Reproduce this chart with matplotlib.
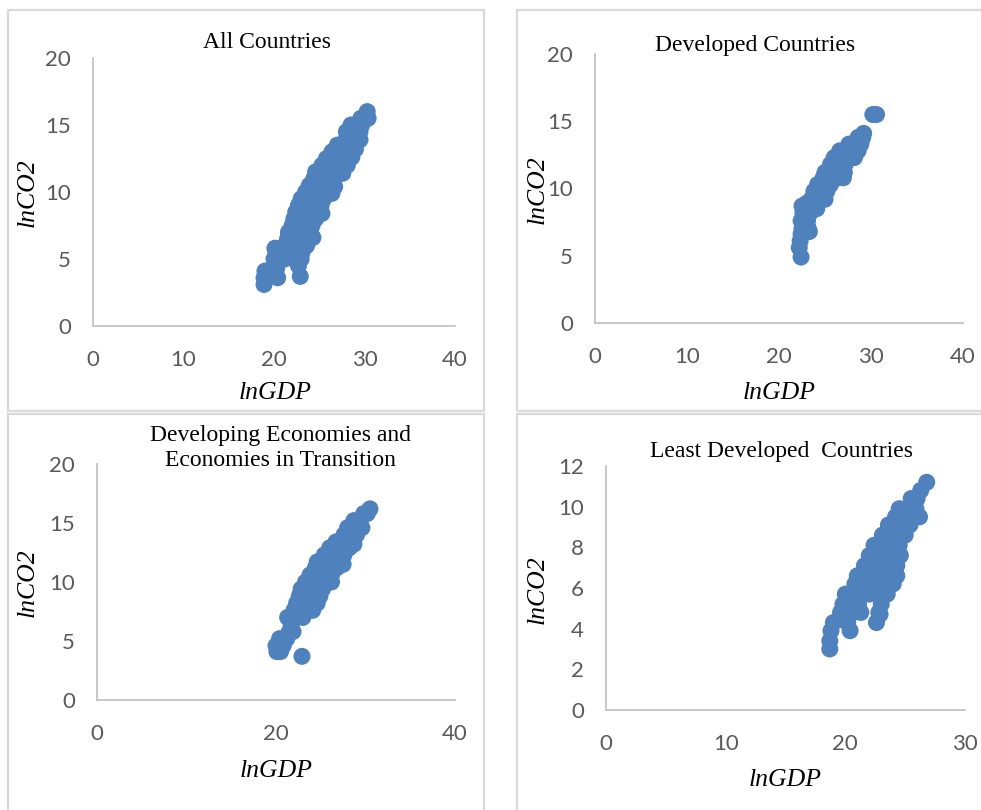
import matplotlib
matplotlib.use("Agg")
import matplotlib.pyplot as plt
from matplotlib.patches import Rectangle

# ---- data ----
all_gdp = [18.9, 18.9, 20.4, 22.9, 19.0, 19.3, 20.0, 22.7, 20.0, 21.2, 23.0,
           20.2, 21.5, 22.3, 23.1, 20.1, 20.6,
           21.2, 22.0, 22.8, 23.6, 21.5, 22.3, 23.1, 23.9, 21.6, 22.4, 23.2, 24.0,
           22.0, 22.8, 23.6, 24.2, 22.2, 23.0, 23.8, 24.6, 22.4, 23.2, 24.0, 24.9,
           22.7, 23.5, 24.3, 25.2, 23.0, 23.8, 24.6, 25.5, 23.5, 24.3, 25.1, 25.9,
           23.9, 24.7, 25.5, 26.3, 24.4, 25.2, 26.0, 26.7, 24.6, 25.5, 26.3, 27.2,
           25.3, 26.1, 26.9, 27.5, 25.8, 26.6, 27.3, 27.9, 26.4, 27.1, 27.8, 28.3,
           27.0, 27.7, 28.5, 28.0, 28.7, 29.2, 28.0, 28.7, 29.5, 28.5, 29.2, 29.7,
           29.6, 30.4, 30.3,
           20.3, 24.3, 25.3, 26.4, 26.7, 27.6, 28.1, 28.6, 29.0, 29.5]
all_co2 = [3.1, 3.6, 3.6, 3.7, 4.1, 4.1, 4.5, 4.5, 5.0, 5.0, 5.0,
           5.5, 5.5, 5.5, 5.5, 5.8, 5.8,
           6.0, 6.0, 6.0, 6.0, 6.5, 6.5, 6.5, 6.5, 7.0, 7.0, 7.0, 7.0,
           7.5, 7.5, 7.5, 7.5, 8.0, 8.0, 8.0, 8.0, 8.5, 8.5, 8.5, 8.5,
           9.0, 9.0, 9.0, 9.0, 9.5, 9.5, 9.5, 9.5, 10.0, 10.0, 10.0, 10.0,
           10.5, 10.5, 10.5, 10.5, 11.0, 11.0, 11.0, 11.0, 11.5, 11.5, 11.5, 11.5,
           12.0, 12.0, 12.0, 12.0, 12.5, 12.5, 12.5, 12.5, 13.0, 13.0, 13.0, 13.0,
           13.5, 13.5, 13.5, 14.0, 14.0, 14.0, 14.5, 14.5, 14.5, 15.0, 15.0, 15.0,
           15.5, 15.5, 16.0,
           4.3, 6.6, 8.4, 9.9, 10.4, 11.4, 12.0, 12.6, 13.2, 13.9]

dev_gdp = [22.4, 22.2, 22.3, 22.4, 22.5, 23.2, 22.4, 23.1, 22.6, 23.4, 22.5, 23.6,
           23.5, 24.3, 25.0, 23.8, 24.5, 25.2, 24.2, 25.0, 25.6,
           24.8, 25.6, 26.4, 27.0, 25.0, 25.8, 26.5, 27.1, 25.6, 26.4, 27.2,
           26.0, 26.8, 27.6, 28.2, 26.6, 27.3, 28.0, 28.6, 27.6, 28.4, 28.9,
           28.6, 29.1, 29.2, 30.2, 30.6,
           23.3, 24.1, 23.0]
dev_co2 = [4.9, 5.6, 6.1, 6.6, 7.0, 7.0, 7.6, 7.6, 8.2, 8.2, 8.7, 8.7,
           9.2, 9.2, 9.2, 9.8, 9.8, 9.8, 10.3, 10.3, 10.3,
           10.8, 10.8, 10.8, 10.8, 11.2, 11.2, 11.2, 11.2, 11.8, 11.8, 11.8,
           12.3, 12.3, 12.3, 12.3, 12.8, 12.8, 12.8, 12.8, 13.3, 13.3, 13.3,
           13.8, 13.8, 14.1, 15.5, 15.5,
           6.8, 8.5, 8.9]

dvg_gdp = [20.1, 20.5, 20.0, 20.8, 20.4, 21.2, 22.9, 21.5, 21.9, 21.7,
           21.3, 22.2, 23.0, 22.0, 22.8, 23.6, 24.1, 22.3, 23.1, 23.9, 24.6,
           22.6, 23.4, 24.2, 24.9, 22.8, 23.6, 24.4, 25.2,
           23.3, 24.1, 24.9, 25.7, 26.2, 23.8, 24.6, 25.4, 26.2,
           24.4, 25.2, 26.0, 26.8, 24.6, 25.4, 26.2, 27.0,
           25.4, 26.2, 27.0, 27.6, 26.0, 26.8, 27.6, 28.2,
           26.7, 27.5, 28.4, 27.6, 28.3, 29.0, 28.0, 28.7, 29.6,
           28.7, 29.4, 29.8, 30.2, 30.5,
           27.5, 28.7]
dvg_co2 = [4.1, 4.1, 4.6, 4.6, 5.2, 5.2, 3.7, 5.8, 5.8, 6.4,
           7.0, 7.0, 7.0, 7.6, 7.6, 7.6, 7.6, 8.2, 8.2, 8.2, 8.2,
           8.8, 8.8, 8.8, 8.8, 9.4, 9.4, 9.4, 9.4,
           10.0, 10.0, 10.0, 10.0, 10.0, 10.6, 10.6, 10.6, 10.6,
           11.2, 11.2, 11.2, 11.2, 11.7, 11.7, 11.7, 11.7,
           12.3, 12.3, 12.3, 12.3, 12.9, 12.9, 12.9, 12.9,
           13.4, 13.4, 13.4, 14.0, 14.0, 14.0, 14.6, 14.6, 14.6,
           15.2, 15.2, 15.8, 15.8, 16.2,
           11.5, 13.2]

ldc_gdp = [18.7, 18.7, 18.8, 20.4, 19.0, 22.6,
           19.6, 20.7, 21.3, 22.8, 19.8, 20.5, 21.1, 23.0,
           20.0, 20.6, 21.3, 22.0, 22.7, 23.5, 20.8, 21.4, 22.1, 22.8, 23.5, 24.0,
           21.0, 21.7, 22.4, 23.1, 23.8, 24.3, 21.6, 22.3, 23.0, 23.7, 24.3,
           22.0, 22.7, 23.4, 24.0, 24.6, 22.4, 23.1, 23.8, 24.5,
           23.1, 23.8, 24.5, 25.0, 23.6, 24.3, 24.9, 25.4,
           24.2, 24.8, 25.5, 26.2, 24.5, 25.2, 25.9, 25.5, 26.0, 26.3, 26.8,
           20.2, 19.9, 22.9]
ldc_co2 = [3.0, 3.4, 3.9, 3.9, 4.3, 4.3,
           4.8, 4.8, 4.8, 4.8, 5.2, 5.2, 5.2, 5.2,
           5.7, 5.7, 5.7, 5.7, 5.7, 5.7, 6.2, 6.2, 6.2, 6.2, 6.2, 6.2,
           6.6, 6.6, 6.6, 6.6, 6.6, 6.6, 7.1, 7.1, 7.1, 7.1, 7.1,
           7.6, 7.6, 7.6, 7.6, 7.6, 8.1, 8.1, 8.1, 8.1,
           8.6, 8.6, 8.6, 8.6, 9.1, 9.1, 9.1, 9.1,
           9.5, 9.5, 9.5, 9.5, 9.9, 9.9, 9.9, 10.4, 10.4, 10.8, 11.2,
           4.3, 4.4, 4.7]

titles = ["All Countries", "Developed Countries",
          "Developing Economies and\nEconomies in Transition",
          "Least Developed  Countries"]

# ---- layout (pixels) ----
W, H = 981, 810
fig = plt.figure(figsize=(W / 100, H / 100), dpi=100)

def frac_rect(x0, y0, x1, y1):
    return [x0 / W, 1 - y1 / H, (x1 - x0) / W, (y1 - y0) / H]

BLUE = "#4F81BD"
GRID = "#D9D9D9"
TICK = "#595959"

# panel borders
for (x0, y0, x1, y1) in [(8, 10, 484, 411), (517, 10, 995, 411),
                         (8, 414, 484, 825), (517, 414, 995, 825)]:
    fig.add_artist(Rectangle((x0 / W, 1 - y1 / H), (x1 - x0) / W, (y1 - y0) / H,
                             transform=fig.transFigure, fill=False,
                             edgecolor=GRID, lw=1.6))

panels = [
    dict(x=all_gdp, y=all_co2, rect=(93, 58, 455, 326), xlim=40, xt=[0, 10, 20, 30, 40],
         ylim=20, yt=[0, 5, 10, 15, 20], title=(267, 42), xl=(275, 393), yl=(28, 193)),
    dict(x=dev_gdp, y=dev_co2, rect=(595, 54, 963, 323), xlim=40, xt=[0, 10, 20, 30, 40],
         ylim=20, yt=[0, 5, 10, 15, 20], title=(755, 45), xl=(779, 393), yl=(538, 190)),
    dict(x=dvg_gdp, y=dvg_co2, rect=(97, 464, 455, 700), xlim=40, xt=[0, 20, 40],
         ylim=20, yt=[0, 5, 10, 15, 20], title=(280, 448), xl=(276, 771), yl=(28, 583)),
    dict(x=ldc_gdp, y=ldc_co2, rect=(606, 466, 965, 710), xlim=30, xt=[0, 10, 20, 30],
         ylim=12, yt=[0, 2, 4, 6, 8, 10, 12], title=(782, 451), xl=(785, 780), yl=(538, 590)),
]

for p, title in zip(panels, titles):
    ax = fig.add_axes(frac_rect(*p["rect"]))
    ax.scatter(p["x"], p["y"], s=150, color=BLUE, edgecolors="none", zorder=3,
               clip_on=False)
    ax.set_xlim(0, p["xlim"])
    ax.set_ylim(0, p["ylim"])
    ax.set_xticks(p["xt"])
    ax.set_yticks(p["yt"])
    for side in ["top", "right"]:
        ax.spines[side].set_visible(False)
    for side in ["left", "bottom"]:
        ax.spines[side].set_color("#BFBFBF")
        ax.spines[side].set_linewidth(1.2)
    ax.tick_params(axis="both", length=0, labelcolor=TICK, labelsize=16)
    ax.tick_params(axis="x", pad=17)
    ax.tick_params(axis="y", pad=16)
    for lab in ax.get_xticklabels() + ax.get_yticklabels():
        lab.set_family("Lato")
    ax.patch.set_alpha(0)

    tx, ty = p["title"]
    fig.text(tx / W, 1 - ty / H, title, ha="center", va="center",
             family="Liberation Serif", fontsize=17, linespacing=1.3)
    xx, xy = p["xl"]
    fig.text(xx / W, 1 - xy / H, "lnGDP", ha="center", va="center",
             family="Liberation Serif", style="italic", fontsize=18.5)
    yx, yy = p["yl"]
    fig.text(yx / W, 1 - yy / H, "lnCO2", ha="center", va="center", rotation=90,
             family="Liberation Serif", style="italic", fontsize=18.5)

fig.savefig("out.png", dpi=100)
